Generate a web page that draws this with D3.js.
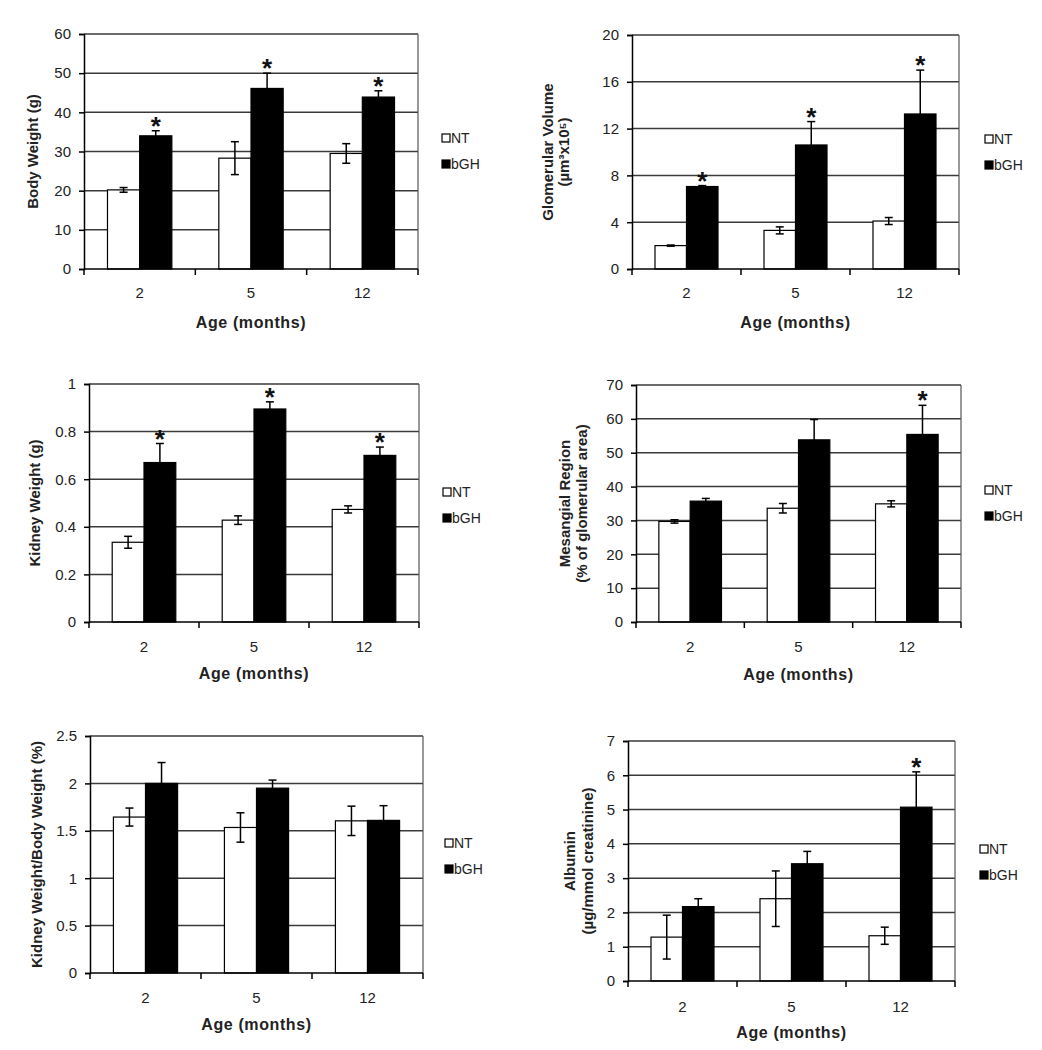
<!DOCTYPE html>
<html>
<head>
<meta charset="utf-8">
<script src="https://cdn.jsdelivr.net/npm/d3@7"></script>
<style>
  html, body { margin: 0; padding: 0; background: #fff; }
  svg { display: block; font-family: "Liberation Sans", Arial, sans-serif; }
</style>
</head>
<body>
<svg id="chart" width="1042" height="1050"></svg>
<script>
// ---------- data ----------
const ages = ["2", "5", "12"];
const seriesNames = ["NT", "bGH"];

const bodyWeightNT = [20.2, 28.3, 29.5];
const bodyWeightNTErr = [0.6, 4.2, 2.5];
const bodyWeightBGH = [34.0, 46.1, 43.9];
const bodyWeightBGHErr = [1.3, 3.9, 1.6];
const bodyWeightStars = [true, true, true];
const bodyWeightTicks = [0, 10, 20, 30, 40, 50, 60];

const glomVolNT = [2.0, 3.3, 4.1];
const glomVolNTErr = [0.05, 0.3, 0.3];
const glomVolBGH = [7.05, 10.6, 13.25];
const glomVolBGHErr = [0.08, 2.0, 3.75];
const glomVolStars = [true, true, true];
const glomVolTicks = [0, 4, 8, 12, 16, 20];

const kidneyWeightNT = [0.335, 0.428, 0.473];
const kidneyWeightNTErr = [0.025, 0.018, 0.015];
const kidneyWeightBGH = [0.67, 0.895, 0.70];
const kidneyWeightBGHErr = [0.08, 0.03, 0.035];
const kidneyWeightStars = [true, true, true];
const kidneyWeightTicks = [0, 0.2, 0.4, 0.6, 0.8, 1];

const mesangialNT = [29.7, 33.6, 34.9];
const mesangialNTErr = [0.5, 1.4, 0.9];
const mesangialBGH = [35.7, 53.8, 55.4];
const mesangialBGHErr = [0.8, 6.0, 8.6];
const mesangialStars = [false, false, true];
const mesangialTicks = [0, 10, 20, 30, 40, 50, 60, 70];

const ratioNT = [1.645, 1.535, 1.605];
const ratioNTErr = [0.095, 0.155, 0.155];
const ratioBGH = [2.0, 1.95, 1.61];
const ratioBGHErr = [0.22, 0.085, 0.155];
const ratioStars = [false, false, false];
const ratioTicks = [0, 0.5, 1, 1.5, 2, 2.5];

const albuminNT = [1.28, 2.4, 1.32];
const albuminNTErr = [0.64, 0.81, 0.25];
const albuminBGH = [2.17, 3.42, 5.07];
const albuminBGHErr = [0.23, 0.36, 1.03];
const albuminStars = [false, false, true];
const albuminTicks = [0, 1, 2, 3, 4, 5, 6, 7];

const xTitle = "Age (months)";

// ---------- panels ----------
const panels = [
  { nt: bodyWeightNT, ntErr: bodyWeightNTErr, bgh: bodyWeightBGH, bghErr: bodyWeightBGHErr, stars: bodyWeightStars, ticks: bodyWeightTicks,
    yLabel: ["Body Weight (g)"], fmt: d => d,
    box: { l: 84, r: 418, t: 34, b: 269 }, legend: { x: 442, y: 138 }, ylx: [33], xty: 293, agey: 322 },
  { nt: glomVolNT, ntErr: glomVolNTErr, bgh: glomVolBGH, bghErr: glomVolBGHErr, stars: glomVolStars, ticks: glomVolTicks,
    yLabel: ["Glomerular Volume", "(µm³x10⁵)"], fmt: d => d,
    box: { l: 632, r: 959, t: 35, b: 269 }, legend: { x: 985, y: 139 }, ylx: [548, 564], xty: 293, agey: 322 },
  { nt: kidneyWeightNT, ntErr: kidneyWeightNTErr, bgh: kidneyWeightBGH, bghErr: kidneyWeightBGHErr, stars: kidneyWeightStars, ticks: kidneyWeightTicks,
    yLabel: ["Kidney Weight (g)"], fmt: d => d,
    box: { l: 89, r: 419, t: 384, b: 622 }, legend: { x: 443, y: 492 }, ylx: [35], xty: 647, agey: 673 },
  { nt: mesangialNT, ntErr: mesangialNTErr, bgh: mesangialBGH, bghErr: mesangialBGHErr, stars: mesangialStars, ticks: mesangialTicks,
    yLabel: ["Mesangial Region", "(% of glomerular area)"], fmt: d => d,
    box: { l: 636, r: 961, t: 385, b: 622 }, legend: { x: 985, y: 490 }, ylx: [565, 582], xty: 647, agey: 674 },
  { nt: ratioNT, ntErr: ratioNTErr, bgh: ratioBGH, bghErr: ratioBGHErr, stars: ratioStars, ticks: ratioTicks,
    yLabel: ["Kidney Weight/Body Weight (%)"], fmt: d => d,
    box: { l: 90, r: 423, t: 736, b: 973 }, legend: { x: 445, y: 843 }, ylx: [37], xty: 998, agey: 1024 },
  { nt: albuminNT, ntErr: albuminNTErr, bgh: albuminBGH, bghErr: albuminBGHErr, stars: albuminStars, ticks: albuminTicks,
    yLabel: ["Albumin", "(µg/mmol creatinine)"], fmt: d => d,
    box: { l: 628, r: 955, t: 741, b: 981 }, legend: { x: 980, y: 849 }, ylx: [570, 588], xty: 1007, agey: 1032 }
];

const svg = d3.select("#chart");
const textColor = "#222";
const gridColor = "#3a3a3a";

panels.forEach(p => {
  const g = svg.append("g");
  const { l, r, t, b } = p.box;
  const yMax = p.ticks[p.ticks.length - 1];
  const y = d3.scaleLinear().domain([0, yMax]).range([b, t]);
  const x = d3.scaleBand().domain(ages).range([l, r]).padding(0);
  const xs = d3.scaleBand().domain(seriesNames).range([0, x.bandwidth()]).paddingInner(0).paddingOuter(0.73);

  // gridlines
  g.append("g").selectAll("line").data(p.ticks.filter(v => v > 0)).join("line")
    .attr("x1", l).attr("x2", r)
    .attr("y1", d => y(d)).attr("y2", d => y(d))
    .attr("stroke", gridColor).attr("stroke-width", 1.5);
  // right border
  g.append("line").attr("x1", r).attr("x2", r).attr("y1", t).attr("y2", b)
    .attr("stroke", "#555").attr("stroke-width", 1.2);

  const rows = ages.map((a, i) => [
    { age: a, s: "NT", v: p.nt[i], e: p.ntErr[i] },
    { age: a, s: "bGH", v: p.bgh[i], e: p.bghErr[i] }
  ]).flat();

  // bars
  g.append("g").selectAll("rect").data(rows).join("rect")
    .attr("x", d => x(d.age) + xs(d.s))
    .attr("y", d => y(d.v))
    .attr("width", xs.bandwidth())
    .attr("height", d => y(0) - y(d.v))
    .attr("fill", d => d.s === "NT" ? "#fff" : "#000")
    .attr("stroke", "#000").attr("stroke-width", 1.2);

  // error bars
  const eb = g.append("g").attr("stroke", "#000").attr("stroke-width", 1.5);
  rows.forEach(d => {
    const cx = x(d.age) + xs(d.s) + xs.bandwidth() / 2;
    const y1 = y(d.v + d.e), y2 = y(d.v - d.e);
    eb.append("line").attr("x1", cx).attr("x2", cx).attr("y1", y1).attr("y2", y2);
    eb.append("line").attr("x1", cx - 4).attr("x2", cx + 4).attr("y1", y1).attr("y2", y1);
    eb.append("line").attr("x1", cx - 4).attr("x2", cx + 4).attr("y1", y2).attr("y2", y2);
  });

  // stars
  g.append("g").selectAll("text").data(ages.map((a, i) => ({ a, i })).filter(d => p.stars[d.i])).join("text")
    .attr("x", d => x(d.a) + xs("bGH") + xs.bandwidth() / 2)
    .attr("y", d => y(p.bgh[d.i] + p.bghErr[d.i]) + 4)
    .attr("text-anchor", "middle")
    .attr("font-size", 26).attr("font-weight", "bold").attr("fill", "#111")
    .text("*");

  // y axis
  const yAxis = d3.axisLeft(y).tickValues(p.ticks).tickSize(5).tickPadding(8).tickFormat(p.fmt);
  const ya = g.append("g").attr("transform", `translate(${l},0)`).call(yAxis);
  ya.select(".domain").attr("stroke", "#000").attr("stroke-width", 1.5);
  ya.selectAll(".tick line").attr("stroke", "#000").attr("stroke-width", 1.5);
  ya.selectAll(".tick text").attr("font-size", 15).attr("fill", textColor)
    .attr("font-family", "Liberation Sans, Arial, sans-serif");

  // x axis
  const xAxis = d3.axisBottom(x).tickSize(0).tickPadding(0);
  const xa = g.append("g").attr("transform", `translate(0,${b})`).call(xAxis);
  xa.select(".domain").remove();
  xa.selectAll(".tick text").attr("font-size", 15).attr("fill", textColor)
    .attr("y", p.xty - b).attr("dy", "0.35em")
    .attr("font-family", "Liberation Sans, Arial, sans-serif");
  const bounds = ages.map(a => x(a)).concat([r]);
  g.append("line").attr("x1", l).attr("x2", r).attr("y1", b).attr("y2", b)
    .attr("stroke", "#000").attr("stroke-width", 1.5);
  g.append("g").selectAll("line").data(bounds).join("line")
    .attr("x1", d => d).attr("x2", d => d).attr("y1", b).attr("y2", b + 6)
    .attr("stroke", "#000").attr("stroke-width", 1.5);

  // x title
  g.append("text").attr("x", (l + r) / 2).attr("y", p.agey)
    .attr("text-anchor", "middle").attr("dy", "0.35em")
    .attr("font-size", 16).attr("font-weight", "bold").attr("fill", textColor)
    .attr("letter-spacing", 0.6)
    .text(xTitle);

  // y title
  const cy = (t + b) / 2;
  p.yLabel.forEach((s, i) => {
    g.append("text")
      .attr("transform", `translate(${p.ylx[i]},${cy}) rotate(-90)`)
      .attr("text-anchor", "middle").attr("dy", "0.35em")
      .attr("font-size", 15).attr("font-weight", "bold").attr("fill", textColor)
      .text(s);
  });

  // legend
  const lg = g.append("g").attr("transform", `translate(${p.legend.x},${p.legend.y})`);
  seriesNames.forEach((s, i) => {
    const yy = i * 26;
    lg.append("rect").attr("x", 0).attr("y", yy - 4).attr("width", 8).attr("height", 8)
      .attr("fill", s === "NT" ? "#fff" : "#000").attr("stroke", "#000").attr("stroke-width", 1.2);
    lg.append("text").attr("x", 9).attr("y", yy).attr("dy", "0.35em")
      .attr("font-size", 14).attr("fill", textColor).text(s);
  });
});
</script>
</body>
</html>
